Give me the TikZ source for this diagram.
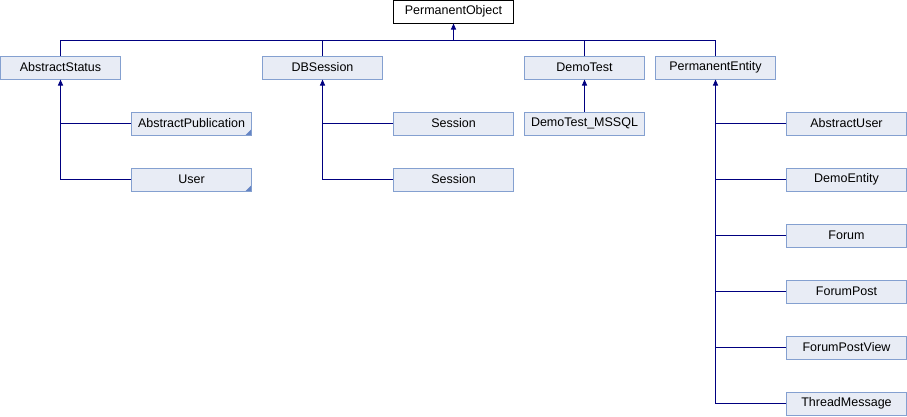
\documentclass[tikz,border=0pt]{standalone}
\usepackage{fontspec}
\setmainfont{Liberation Sans}
\usetikzlibrary{arrows.meta, positioning}
\definecolor{boxfill}{RGB}{232, 236, 245}
\definecolor{boxline}{RGB}{132, 160, 208}
\definecolor{linkcolor}{RGB}{0, 0, 128}
\definecolor{cornercolor}{RGB}{100, 132, 196}

\begin{document}
\begin{tikzpicture}[
    x=1pt, y=-1pt,
    cls/.style={draw=boxline, fill=boxfill, line width=1pt, minimum width=120pt, minimum height=23pt, inner sep=0pt, font=\fontsize{12.5}{14}\selectfont},
    clsmore/.style={cls, path picture={\fill[cornercolor] (path picture bounding box.south east) -- ++(-6,0) -- ++(6,-6) -- cycle;}},
    rootcls/.style={cls, draw=black, fill=white},
    link/.style={draw=linkcolor, line width=1pt},
    inh/.style={link, -{Triangle[width=5pt, length=6pt]}}
]
    \useasboundingbox (0,0) rectangle (907,416);

    % Root class (top)
    \node[rootcls] (root) at (453.5, 11.5) {PermanentObject};

    % Direct subclasses
    \node[cls] (status) at (60.5, 67.5) {AbstractStatus};
    \node[cls] (dbsession) at (322.5, 67.5) {DBSession};
    \node[cls] (demotest) at (584.5, 67.5) {DemoTest};
    \node[cls] (entity) at (715.5, 67.5) {PermanentEntity};

    % Subclasses of AbstractStatus
    \node[clsmore] (publication) at (191.5, 123.5) {AbstractPublication};
    \node[clsmore] (user) at (191.5, 179.5) {User};

    % Subclasses of DBSession and DemoTest
    \node[cls] (sessionA) at (453.5, 123.5) {Session};
    \node[cls] (sessionB) at (453.5, 179.5) {Session};
    \node[cls] (mssql) at (584.5, 123.5) {DemoTest\_MSSQL};

    % Subclasses of PermanentEntity
    \node[cls] (absuser) at (846.5, 123.5) {AbstractUser};
    \node[cls] (demoentity) at (846.5, 179.5) {DemoEntity};
    \node[cls] (forum) at (846.5, 235.5) {Forum};
    \node[cls] (forumpost) at (846.5, 291.5) {ForumPost};
    \node[cls] (postview) at (846.5, 347.5) {ForumPostView};
    \node[cls] (threadmsg) at (846.5, 403.5) {ThreadMessage};

    % Connections - top level
    \coordinate (bus) at (453.5, 40.5);
    \draw[inh] (bus) -- (root);
    \draw[link] (status.north) |- (bus);
    \draw[link] (dbsession.north) |- (bus);
    \draw[link] (demotest.north) |- (bus);
    \draw[link] (entity.north) |- (bus);

    % Connections - AbstractStatus
    \draw[inh] (user.west) -| (status.south);
    \draw[link] (publication.west) -- (status.south |- publication.west);

    % Connections - DBSession and DemoTest
    \draw[inh] (sessionB.west) -| (dbsession.south);
    \draw[link] (sessionA.west) -- (dbsession.south |- sessionA.west);
    \draw[inh] (mssql) -- (demotest);

    % Connections - PermanentEntity
    \draw[inh] (threadmsg.west) -| (entity.south);
    \draw[link] (absuser.west) -- (entity.south |- absuser.west);
    \draw[link] (demoentity.west) -- (entity.south |- demoentity.west);
    \draw[link] (forum.west) -- (entity.south |- forum.west);
    \draw[link] (forumpost.west) -- (entity.south |- forumpost.west);
    \draw[link] (postview.west) -- (entity.south |- postview.west);

\end{tikzpicture}
\end{document}
